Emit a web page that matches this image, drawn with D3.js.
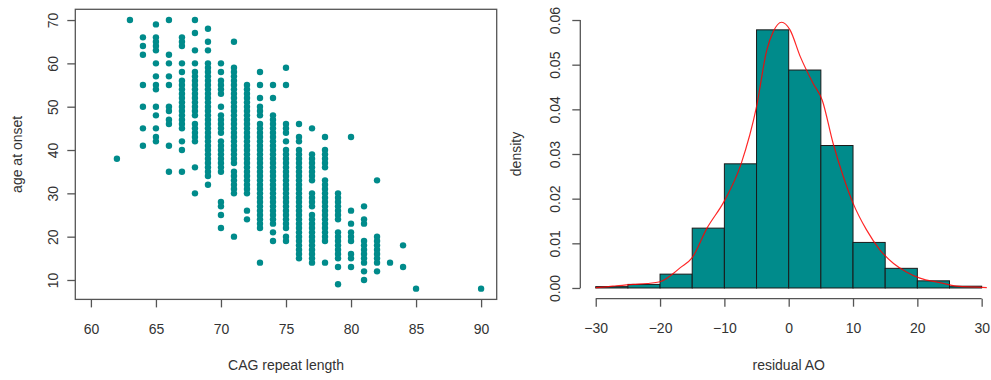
<!DOCTYPE html>
<html>
<head>
<meta charset="utf-8">
<script src="https://cdn.jsdelivr.net/npm/d3@7"></script>
<style>
  html, body { margin: 0; padding: 0; background: #fff; }
  svg { display: block; font-family: "Liberation Sans", Arial, sans-serif; }
</style>
</head>
<body>
<svg id="chart" width="991" height="380"></svg>
<script>
// scatter: one entry of onset ages per CAG repeat length
const cagLengths = [62, 63, 64, 65, 66, 67, 68, 69, 70, 71, 72, 73, 74, 75, 76, 77, 78, 79, 80, 81, 82, 83, 84, 85, 90];
const onsetAges = [
  [38],
  [70],
  [66, 64, 62, 55, 50, 45, 41],
  [69, 66, 65, 64, 63, 60, 57, 55, 54, 50, 48, 45, 43, 42],
  [70, 62, 60, 57, 55, 50, 49, 47, 46, 41, 35],
  [66, 65, 64, 60, 58, 56, 55, 54, 53, 52, 51, 50, 49, 48, 47, 46, 45, 42, 40, 35],
  [70, 67, 63, 60, 58, 57, 56, 55, 54, 53, 52, 51, 50, 49, 48, 46, 45, 44, 43, 42, 36, 30],
  [68, 65, 63, 60, 59, 58, 57, 56, 55, 54, 53, 52, 51, 50, 49, 48, 47, 46, 45, 44, 43, 42, 41, 40, 39, 38, 37, 36, 35, 34, 32],
  [60, 58, 56, 55, 54, 53, 50, 48, 47, 46, 45, 44, 42, 41, 40, 39, 38, 37, 36, 35, 28, 27, 25, 22],
  [65, 59, 58, 57, 56, 55, 54, 53, 52, 51, 50, 49, 48, 47, 46, 45, 44, 43, 42, 41, 40, 39, 38, 37, 35, 34, 33, 32, 31, 30, 20],
  [55, 54, 53, 52, 51, 50, 49, 48, 47, 46, 45, 44, 43, 42, 41, 40, 39, 38, 37, 36, 35, 34, 33, 32, 31, 30, 26, 24],
  [58, 55, 52, 50, 49, 48, 46, 45, 44, 43, 42, 41, 40, 39, 38, 37, 36, 35, 34, 33, 32, 31, 30, 29, 28, 27, 26, 25, 24, 23, 22, 14],
  [55, 52, 48, 47, 46, 45, 44, 43, 42, 41, 40, 39, 38, 37, 36, 35, 34, 33, 32, 31, 30, 29, 28, 27, 26, 25, 24, 23, 21, 19],
  [59, 55, 46, 45, 44, 42, 40, 39, 38, 37, 36, 35, 34, 33, 32, 31, 30, 29, 28, 27, 26, 25, 24, 23, 22, 20, 19],
  [46, 43, 42, 40, 39, 38, 37, 36, 35, 34, 33, 32, 31, 30, 29, 28, 27, 26, 25, 24, 23, 22, 21, 20, 19, 18, 17, 16, 15],
  [45, 39, 38, 37, 36, 35, 34, 33, 30, 29, 28, 27, 25, 24, 23, 22, 21, 20, 19, 18, 17, 16, 15, 14],
  [43, 40, 39, 38, 37, 36, 33, 32, 31, 30, 29, 28, 27, 26, 25, 24, 23, 22, 21, 20, 19, 14],
  [30, 29, 28, 27, 26, 25, 24, 21, 20, 19, 18, 17, 16, 15, 13, 9],
  [43, 26, 23, 21, 20, 19, 16, 15, 13],
  [27, 24, 23, 19, 18, 17, 16, 15, 14, 12, 10],
  [33, 20, 19, 18, 17, 16, 15, 14, 12],
  [14],
  [18, 13],
  [8],
  [8]
];
const cagTicks = [60, 65, 70, 75, 80, 85, 90];
const ageTicks = [10, 20, 30, 40, 50, 60, 70];

// histogram of residual AO, density scale, bins of width 5
const binStarts = [-30, -25, -20, -15, -10, -5, 0, 5, 10, 15, 20, 25];
const binDensity = [0.0003, 0.0008, 0.0031, 0.0134, 0.0278, 0.0578, 0.0488, 0.0319, 0.0102, 0.0044, 0.0016, 0.0004];
const binWidth = 5;

// kernel density curve
const kdeX = [-30, -28, -26.8, -24.2, -22, -20, -17.9, -16.9, -15, -12.7, -10, -7.4, -5, -3.4, -2.4, -1.1, 0.2, 1.8, 3.8, 5.2, 6.9, 8.5, 10, 12.1, 14.2, 16.3, 18.3, 20.4, 23.5, 26.1, 30.8];
const kdeY = [0.0001, 0.0003, 0.0005, 0.0008, 0.0010, 0.0014, 0.0033, 0.0045, 0.0068, 0.0134, 0.0195, 0.0278, 0.0406, 0.0533, 0.0574, 0.0595, 0.0578, 0.0518, 0.0458, 0.0421, 0.0324, 0.0249, 0.0190, 0.0130, 0.0085, 0.0055, 0.0036, 0.0022, 0.0012, 0.0004, 0.0001];
const residTicks = [-30, -20, -10, 0, 10, 20, 30];
const densityTicks = [0, 0.01, 0.02, 0.03, 0.04, 0.05, 0.06];

const teal = "#008b8b";
const axisColour = "#555";
const textColour = "#333";
const fontSize = "14px";
const tickSize = 8;

// R style: widen the range by 4% on each side
const pad = ([a, b]) => {
  const d = (b - a) * 0.04;
  return [a - d, b + d];
};

const svg = d3.select("#chart");

// ---------- left: scatter ----------
const points = cagLengths.flatMap((c, i) => onsetAges[i].map((a) => ({ cag: c, age: a })));

const xCag = d3.scaleLinear().domain(pad([60, 90])).range([75.3, 496.7]);
const yAge = d3
  .scaleLinear()
  .domain(pad(d3.extent(points, (d) => d.age)))
  .range([299.4, 9.3]);

svg
  .append("g")
  .selectAll("circle")
  .data(points)
  .join("circle")
  .attr("cx", (d) => xCag(d.cag))
  .attr("cy", (d) => yAge(d.age))
  .attr("r", 3.2)
  .attr("fill", teal);

svg
  .append("rect")
  .attr("x", xCag.range()[0])
  .attr("y", yAge.range()[1])
  .attr("width", xCag.range()[1] - xCag.range()[0])
  .attr("height", yAge.range()[0] - yAge.range()[1])
  .attr("fill", "none")
  .attr("stroke", axisColour)
  .attr("stroke-width", 1.3);

const styleAxis = (g) => {
  g.select(".domain").remove();
  g.selectAll(".tick line").attr("stroke", axisColour).attr("stroke-width", 1.3);
  g.selectAll(".tick text").attr("fill", textColour).attr("font-size", fontSize);
};

// x ticks hang below the box
svg
  .append("g")
  .attr("transform", `translate(0, ${yAge.range()[0]})`)
  .call(d3.axisBottom(xCag).tickValues(cagTicks).tickSize(tickSize))
  .call(styleAxis)
  .selectAll(".tick text")
  .attr("y", 34.6)
  .attr("dy", 0);

// y labels run parallel to the axis
svg
  .append("g")
  .attr("transform", `translate(${xCag.range()[0]}, 0)`)
  .call(d3.axisLeft(yAge).tickValues(ageTicks).tickSize(tickSize))
  .call(styleAxis)
  .selectAll(".tick text")
  .attr("transform", "rotate(-90)")
  .attr("x", 0)
  .attr("y", -17.5)
  .attr("dy", 0)
  .attr("text-anchor", "middle");

svg
  .append("text")
  .attr("x", (xCag.range()[0] + xCag.range()[1]) / 2)
  .attr("y", 370)
  .attr("text-anchor", "middle")
  .attr("font-size", fontSize)
  .attr("fill", textColour)
  .text("CAG repeat length");

svg
  .append("text")
  .attr("transform", `translate(22, ${(yAge.range()[0] + yAge.range()[1]) / 2}) rotate(-90)`)
  .attr("text-anchor", "middle")
  .attr("font-size", fontSize)
  .attr("fill", textColour)
  .text("age at onset");

// ---------- right: histogram ----------
const xRes = d3.scaleLinear().domain(pad([-30, 30])).range([580.3, 997.1]);
const yDen = d3.scaleLinear().domain(pad([0, 0.06])).range([298.7, 9.3]);

svg
  .append("g")
  .selectAll("rect")
  .data(binStarts)
  .join("rect")
  .attr("x", (d) => xRes(d))
  .attr("y", (d, i) => yDen(binDensity[i]))
  .attr("width", (d) => xRes(d + binWidth) - xRes(d))
  .attr("height", (d, i) => yDen(0) - yDen(binDensity[i]))
  .attr("fill", teal)
  .attr("stroke", "#1a1a1a")
  .attr("stroke-width", 1);

const kdeLine = d3
  .line()
  .x((d) => xRes(d))
  .y((d, i) => yDen(kdeY[i]))
  .curve(d3.curveMonotoneX);

svg
  .append("path")
  .attr("d", kdeLine(kdeX))
  .attr("fill", "none")
  .attr("stroke", "#ff0000")
  .attr("stroke-opacity", 0.85)
  .attr("stroke-width", 1.2);

// axis lines only span the first to the last tick
const bottom = svg.append("g").attr("transform", `translate(0, ${yDen.range()[0]})`);
bottom
  .call(d3.axisBottom(xRes).tickValues(residTicks).tickSize(tickSize))
  .call(styleAxis)
  .selectAll(".tick text")
  .attr("y", 34.3)
  .attr("dy", 0);
bottom
  .append("line")
  .attr("x1", xRes(residTicks[0]))
  .attr("x2", xRes(residTicks[residTicks.length - 1]))
  .attr("stroke", axisColour)
  .attr("stroke-width", 1.3);

const left = svg.append("g").attr("transform", `translate(${xRes.range()[0]}, 0)`);
left
  .call(d3.axisLeft(yDen).tickValues(densityTicks).tickSize(tickSize).tickFormat(d3.format(".2f")))
  .call(styleAxis)
  .selectAll(".tick text")
  .attr("transform", "rotate(-90)")
  .attr("x", 0)
  .attr("y", -20.5)
  .attr("dy", 0)
  .attr("text-anchor", "middle");
left
  .append("line")
  .attr("y1", yDen(densityTicks[0]))
  .attr("y2", yDen(densityTicks[densityTicks.length - 1]))
  .attr("stroke", axisColour)
  .attr("stroke-width", 1.3);

svg
  .append("text")
  .attr("x", xRes(0))
  .attr("y", 370)
  .attr("text-anchor", "middle")
  .attr("font-size", fontSize)
  .attr("fill", textColour)
  .text("residual AO");

svg
  .append("text")
  .attr("transform", `translate(521, ${(yDen.range()[0] + yDen.range()[1]) / 2}) rotate(-90)`)
  .attr("text-anchor", "middle")
  .attr("font-size", fontSize)
  .attr("fill", textColour)
  .text("density");
</script>
</body>
</html>
